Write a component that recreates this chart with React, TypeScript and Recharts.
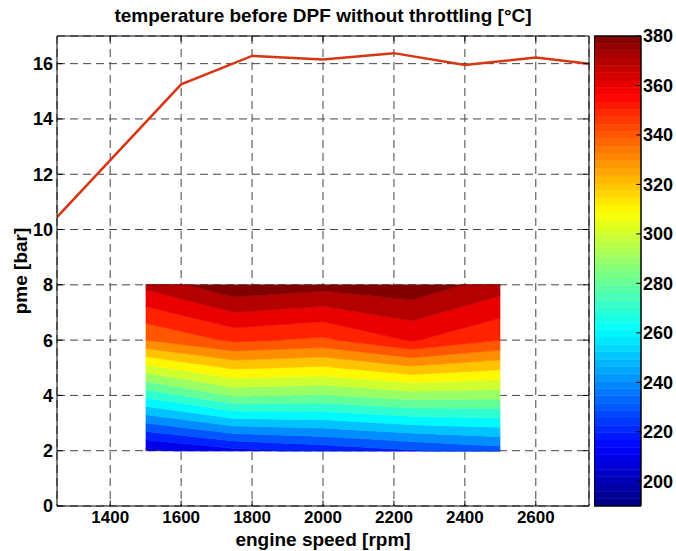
import React from 'react';
import { ComposedChart, Area, Line, XAxis, YAxis, CartesianGrid, ReferenceLine, Label } from 'recharts';

// full load curve (red line)
const fullLoadRpm = [1250, 1600, 1800, 2000, 2200, 2400, 2600, 2750];
const fullLoadPme = [10.45, 15.25, 16.28, 16.15, 16.38, 15.95, 16.22, 16.0];

// measured temperature map, one array per pme row [°C]
const mapRpm = [1500, 1750, 2000, 2250, 2500];
const mapPme = [2, 4, 6, 8];
const tempAt2bar = [197, 207, 213, 219, 225];
const tempAt4bar = [263, 281, 279, 285, 284];
const tempAt6bar = [330, 342, 338, 351, 340];
const tempAt8bar = [363, 378, 374, 377, 365];

const contourLevels = [190, 200, 210, 220, 230, 240, 250, 260, 270, 280, 290, 300, 310, 320, 330, 340, 350, 360, 370, 380];
const colorbarTicks = [200, 220, 240, 260, 280, 300, 320, 340, 360, 380];
const xTicks = [1400, 1600, 1800, 2000, 2200, 2400, 2600];
const yTicks = [0, 2, 4, 6, 8, 10, 12, 14, 16];

const CMIN = 190;
const CMAX = 380;
const FONT = '"Liberation Sans", Arial, Helvetica, sans-serif';

const jet = (t: number) => {
  const c = (v: number) => Math.round(255 * Math.max(0, Math.min(1, v)));
  return `rgb(${c(1.5 - Math.abs(4 * t - 3))},${c(1.5 - Math.abs(4 * t - 2))},${c(1.5 - Math.abs(4 * t - 1))})`;
};

const tempGrid = [tempAt2bar, tempAt4bar, tempAt6bar, tempAt8bar];

// pme where a contour level crosses the column at rpm node i
const pmeAtNode = (i: number, level: number) => {
  const col = tempGrid.map((r) => r[i]);
  if (level <= col[0]) return mapPme[0];
  if (level >= col[col.length - 1]) return mapPme[mapPme.length - 1];
  for (let j = 0; j < col.length - 1; j++) {
    if (level >= col[j] && level <= col[j + 1]) {
      return mapPme[j] + ((level - col[j]) / (col[j + 1] - col[j])) * (mapPme[j + 1] - mapPme[j]);
    }
  }
  return mapPme[0];
};

// polyline of one contour level (clipped to the map)
const contourLine = (level: number) => {
  const pts: [number, number][] = mapRpm.map((x, i) => [x, pmeAtNode(i, level)]);
  for (let i = 0; i < mapRpm.length - 1; i++) {
    tempGrid.forEach((row, j) => {
      const a = row[i];
      const b = row[i + 1];
      if ((a - level) * (b - level) < 0) {
        pts.push([mapRpm[i] + ((level - a) / (b - a)) * (mapRpm[i + 1] - mapRpm[i]), mapPme[j]]);
      }
    });
  }
  return pts.sort((p, q) => p[0] - q[0]);
};

const interp = (pts: [number, number][], x: number) => {
  for (let k = 0; k < pts.length - 1; k++) {
    const [x0, y0] = pts[k];
    const [x1, y1] = pts[k + 1];
    if (x >= x0 && x <= x1) return x1 === x0 ? y0 : y0 + ((x - x0) / (x1 - x0)) * (y1 - y0);
  }
  return pts[pts.length - 1][1];
};

const lines = contourLevels.map(contourLine);
const allX = Array.from(new Set(lines.flatMap((l) => l.map((p) => Math.round(p[0] * 1000) / 1000)))).sort((a, b) => a - b);
const mapRows = allX.map((x) => {
  const row: Record<string, number | number[]> = { rpm: x };
  const ys = lines.map((l) => interp(l, x));
  for (let k = 0; k < contourLevels.length - 1; k++) row[`b${k}`] = [ys[k], ys[k + 1]];
  return row;
});

const bands = contourLevels.slice(0, -1).map((lo, k) => ({
  key: `b${k}`,
  color: jet((contourLevels[k + 1] - CMIN) / (CMAX - CMIN)),
}));

const fullLoadRows = fullLoadRpm.map((rpm, i) => ({ rpm, pme: fullLoadPme[i] }));

// colorbar: 64-step jet colormap between CMIN and CMAX
const COLORMAP_SIZE = 64;
const colorSteps = Array.from({ length: COLORMAP_SIZE }, (_, s) => ({
  key: `s${s}`,
  lo: CMIN + (s * (CMAX - CMIN)) / COLORMAP_SIZE,
  hi: CMIN + ((s + 1) * (CMAX - CMIN)) / COLORMAP_SIZE,
  color: jet((s + 0.5) / COLORMAP_SIZE),
}));
const colorbarRows = [0, 1].map((x) => {
  const row: Record<string, number | number[]> = { x };
  colorSteps.forEach((s) => { row[s.key] = [s.lo, s.hi]; });
  return row;
});

const tickStyle = { fill: '#000', fontSize: 17, fontWeight: 'bold', fontFamily: FONT };
const cbTickStyle = { fill: '#000', fontSize: 18, fontWeight: 'bold', fontFamily: FONT };
const labelStyle = { fill: '#000', fontSize: 19, fontWeight: 'bold', fontFamily: FONT };

const App = () => {
  return (
    <div style={{ position: 'absolute', left: 0, top: 0, width: 676, height: 551, background: '#fff' }}>
      <div
        style={{
          position: 'absolute', left: 57, top: 6, width: 532, textAlign: 'center',
          fontFamily: FONT, fontWeight: 'bold', fontSize: 19, lineHeight: '19px', color: '#000',
        }}
      >
        temperature before DPF without throttling [°C]
      </div>

      <div style={{ position: 'absolute', left: 0, top: 0 }}>
        <ComposedChart width={676} height={551} data={mapRows} margin={{ top: 36, right: 87, bottom: 0, left: 0 }}>
          <CartesianGrid stroke="#444" strokeDasharray="8 5" />
          <XAxis
            dataKey="rpm" type="number" domain={[1250, 2750]} ticks={xTicks} allowDataOverflow
            height={45} tickSize={0} tickMargin={5} axisLine={{ stroke: '#000' }} tick={tickStyle}
          >
            <Label value="engine speed [rpm]" position="insideBottom" offset={5} style={labelStyle} />
          </XAxis>
          <YAxis
            type="number" domain={[0, 17]} ticks={yTicks} allowDataOverflow
            width={57} tickSize={0} tickMargin={4} axisLine={{ stroke: '#000' }} tick={{ ...tickStyle, fontSize: 18 }}
          >
            <Label value="pme [bar]" angle={-90} position="insideLeft" offset={20} style={{ ...labelStyle, textAnchor: 'middle' }} />
          </YAxis>
          {bands.map((b) => (
            <Area
              key={b.key} dataKey={b.key} type="linear" fill={b.color} fillOpacity={1}
              stroke={b.color} strokeWidth={0.6} dot={false} activeDot={false} isAnimationActive={false}
            />
          ))}
          <Line
            data={fullLoadRows} dataKey="pme" type="linear" stroke="#d83512" strokeWidth={2.5}
            dot={false} activeDot={false} isAnimationActive={false}
          />
          {xTicks.map((t) => (
            <ReferenceLine key={`xb${t}`} segment={[{ x: t, y: 0 }, { x: t, y: 0.2 }]} stroke="#000" />
          ))}
          {xTicks.map((t) => (
            <ReferenceLine key={`xt${t}`} segment={[{ x: t, y: 16.8 }, { x: t, y: 17 }]} stroke="#000" />
          ))}
          {yTicks.map((t) => (
            <ReferenceLine key={`yl${t}`} segment={[{ x: 1250, y: t }, { x: 1266, y: t }]} stroke="#000" />
          ))}
          {yTicks.map((t) => (
            <ReferenceLine key={`yr${t}`} segment={[{ x: 2734, y: t }, { x: 2750, y: t }]} stroke="#000" />
          ))}
          <ReferenceLine x={2750} stroke="#000" />
          <ReferenceLine y={17} stroke="#000" />
        </ComposedChart>
      </div>

      <div style={{ position: 'absolute', left: 594, top: 0 }}>
        <ComposedChart width={82} height={551} data={colorbarRows} margin={{ top: 36, right: 0, bottom: 45, left: 0 }}>
          <XAxis dataKey="x" type="number" domain={[0, 1]} hide />
          <YAxis
            type="number" orientation="right" domain={[CMIN, CMAX]} ticks={colorbarTicks} allowDataOverflow
            width={35} tickSize={0} tickMargin={2} axisLine={false} tick={cbTickStyle}
          />
          {colorSteps.map((s) => (
            <Area
              key={s.key} dataKey={s.key} type="linear" fill={s.color} fillOpacity={1}
              stroke={s.color} strokeWidth={0.5} dot={false} activeDot={false} isAnimationActive={false}
            />
          ))}
          {colorbarTicks.map((t) => (
            <ReferenceLine key={t} segment={[{ x: 0.9, y: t }, { x: 1, y: t }]} stroke="#000" />
          ))}
          <ReferenceLine x={0} stroke="#000" strokeWidth={1.5} />
          <ReferenceLine x={1} stroke="#000" strokeWidth={1.5} />
          <ReferenceLine y={CMIN} stroke="#000" strokeWidth={1.5} />
          <ReferenceLine y={CMAX} stroke="#000" strokeWidth={1.5} />
        </ComposedChart>
      </div>
    </div>
  );
};

export default App;
